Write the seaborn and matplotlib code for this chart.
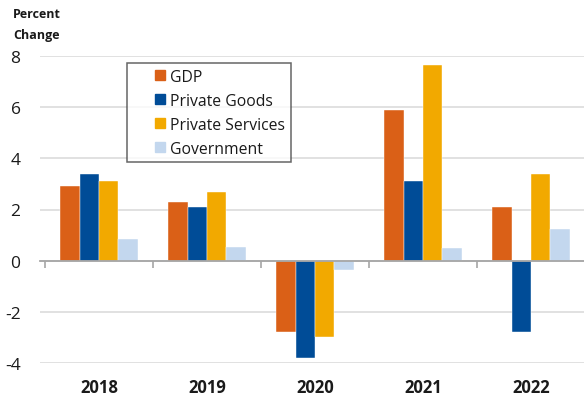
import matplotlib
matplotlib.use("Agg")
import matplotlib.pyplot as plt
from matplotlib.lines import Line2D
import seaborn as sns
import pandas as pd

years = ["2018", "2019", "2020", "2021", "2022"]
series = ["GDP", "Private Goods", "Private Services", "Government"]
gdp = [2.9, 2.3, -2.8, 5.9, 2.1]
private_goods = [3.4, 2.1, -3.8, 3.1, -2.8]
private_services = [3.1, 2.7, -3.0, 7.65, 3.4]
government = [0.85, 0.55, -0.35, 0.5, 1.25]
y_ticks = [-4, -2, 0, 2, 4, 6, 8]
colors = ["#DA6017", "#004C97", "#F2A900", "#C3D7EE"]

values = [gdp, private_goods, private_services, government]
rows = []
for s, vals in zip(series, values):
    for y, v in zip(years, vals):
        rows.append({"Year": y, "Series": s, "Value": v})
df = pd.DataFrame(rows)

sns.set_theme(style="white")
plt.rcParams["font.family"] = ["Open Sans", "DejaVu Sans"]

W, H = 584, 402
fig = plt.figure(figsize=(W / 100, H / 100), dpi=100)
ax = fig.add_axes([40 / W, 1 - 364 / H, 544 / W, (364 - 57) / H])

sns.barplot(data=df, x="Year", y="Value", hue="Series", hue_order=series,
            palette=colors, saturation=1, width=0.72, dodge=True,
            edgecolor="#FFFFFF", linewidth=0.3, legend=False, ax=ax, zorder=3)

unit = 108.0
x0 = -0.5 - 5 / unit
ax.set_xlim(x0, x0 + 544 / unit)
ax.set_ylim(-4, 8)
ax.set_yticks(y_ticks)
ax.set_yticklabels([str(t) for t in y_ticks], fontsize=12.5, color="#1a1a1a")
ax.yaxis.grid(True, color="#D9D9D9", linewidth=1.1, zorder=0)
ax.set_axisbelow(True)
for sp in ax.spines.values():
    sp.set_visible(False)
ax.tick_params(axis="y", length=0, pad=14)
ax.tick_params(axis="x", length=0, pad=11)
for lbl in ax.get_xticklabels():
    lbl.set_fontweight("bold")
    lbl.set_fontsize(12)
    lbl.set_color("#1a1a1a")
ax.set_xlabel("")
ax.set_ylabel("")

# zero line with category boundary ticks
sec = ax.secondary_xaxis(4 / 12)
sec.set_xticks([i - 0.5 for i in range(len(years) + 1)])
sec.set_xticklabels([])
sec.tick_params(axis="x", direction="out", length=5, width=1.2, color="#A6A6A6")
sec.spines["bottom"].set_color("#A6A6A6")
sec.spines["bottom"].set_linewidth(1.3)
sec.set_zorder(4)

# legend
handles = [Line2D([0], [0], marker="s", linestyle="none", markersize=7.5,
                  markerfacecolor=c, markeredgecolor=c) for c in colors]
leg = fig.legend(handles, series, loc="upper left",
                 bbox_to_anchor=(127 / W, 1 - 64 / H),
                 frameon=True, fancybox=False, fontsize=11.3,
                 borderpad=0.38, labelspacing=0.5, handlelength=3.4,
                 handletextpad=-1.05, borderaxespad=0)
leg.get_frame().set_edgecolor("#404040")
leg.get_frame().set_linewidth(1.1)
for t in leg.get_texts():
    t.set_color("#1a1a1a")

fig.text(13 / W, 1 - 15 / H, "Percent", fontsize=9, fontweight="bold",
         va="center", ha="left", color="#1a1a1a")
fig.text(13 / W, 1 - 35 / H, "Change", fontsize=9, fontweight="bold",
         va="center", ha="left", color="#1a1a1a")

fig.savefig("out.png", dpi=100)
